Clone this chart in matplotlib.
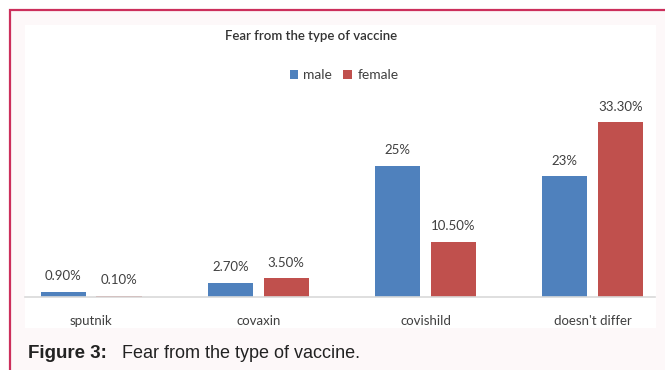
import matplotlib
matplotlib.use("Agg")
import matplotlib.pyplot as plt
import numpy as np
from matplotlib.patches import Rectangle

# dados
categorias = ["sputnik", "covaxin", "covishild", "doesn't differ"]
male = [0.9, 2.7, 25, 23]
female = [0.1, 3.5, 10.5, 33.3]
rotulos_male = ["0.90%", "2.70%", "25%", "23%"]
rotulos_female = ["0.10%", "3.50%", "10.50%", "33.30%"]

azul = "#4f81bd"
vermelho = "#c0504d"
cinza_txt = "#404040"
fonte = ["Lato", "DejaVu Sans"]

W, H = 665, 370
fig = plt.figure(figsize=(W / 100, H / 100), dpi=100)
fig.patch.set_facecolor("white")

# moldura e fundo
fig.patches.append(Rectangle((10 / W, -0.1), 1.1, 360 / H + 0.1, transform=fig.transFigure,
                             facecolor="#fdf8f9", edgecolor="#cc2f5c", lw=1.6, zorder=0))
fig.patches.append(Rectangle((25 / W, 42 / H), 631 / W, 303 / H, transform=fig.transFigure,
                             facecolor="white", edgecolor="none", zorder=0))

# eixo
ax = fig.add_axes([25 / W, 73.3 / H, 630 / W, (270 - 73.3) / H])
ax.set_zorder(2)
ax.set_facecolor("none")
x = np.arange(len(categorias))
larg = 0.27
desl = 0.167
b1 = ax.bar(x - desl, male, larg, color=azul, label="male")
b2 = ax.bar(x + desl, female, larg, color=vermelho, label="female")

for barras, rotulos in [(b1, rotulos_male), (b2, rotulos_female)]:
    for b, r in zip(barras, rotulos):
        ax.annotate(r, (b.get_x() + b.get_width() / 2, b.get_height()),
                    xytext=(0, 7), textcoords="offset points", ha="center", va="bottom",
                    fontsize=9.5, color=cinza_txt, family=fonte)

ax.set_xlim(-0.395, 3.373)
ax.set_ylim(0, 37.6)
ax.set_xticks(x)
ax.set_xticklabels(categorias, family=fonte, fontsize=9.5, color=cinza_txt)
ax.tick_params(axis="x", length=0, pad=13)
ax.set_yticks([])
for s in ["top", "left", "right"]:
    ax.spines[s].set_visible(False)
ax.spines["bottom"].set_color("#d9d9d9")
ax.spines["bottom"].set_linewidth(1.2)

# titulo e legenda
fig.text(311 / W, 1 - 36 / H, "Fear from the type of vaccine", ha="center", va="center",
         fontsize=9.5, color="#333333", family=fonte, fontweight="semibold")
fig.legend(loc="center", bbox_to_anchor=(344 / W, 1 - 75 / H), ncol=2, frameon=False,
           handlelength=0.6, handleheight=0.6, handletextpad=0.4, columnspacing=0.8,
           prop={"family": fonte, "size": 10}, labelcolor=cinza_txt)

# legenda da figura
fig.text(28 / W, 1 - 354 / H, "Figure 3:", ha="left", va="center", fontsize=13.5,
         fontweight="bold", color="#222222", family="Liberation Sans")
fig.text(122 / W, 1 - 354 / H, "Fear from the type of vaccine.", ha="left", va="center",
         fontsize=13, color="#222222", family="Liberation Sans")

fig.savefig("out.png", dpi=100)
